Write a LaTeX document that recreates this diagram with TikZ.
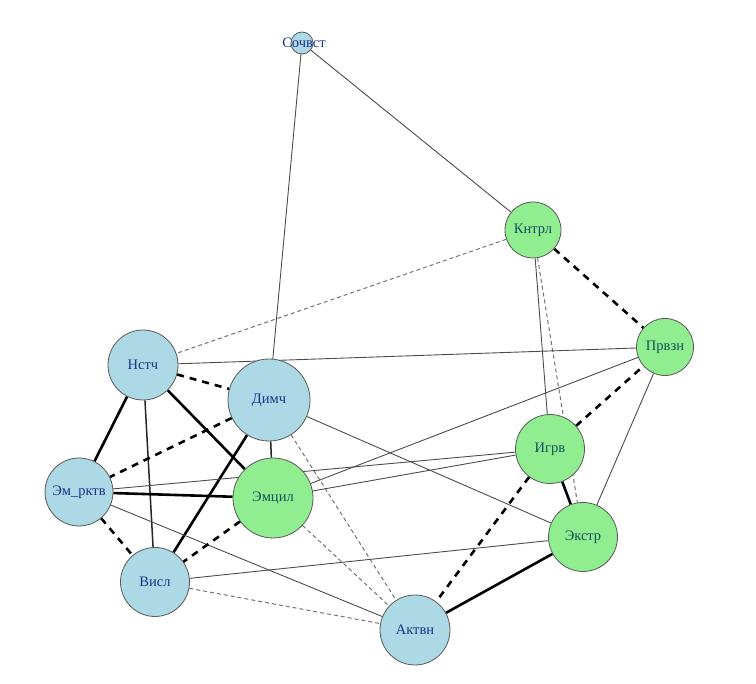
\documentclass[tikz,border=0pt]{standalone}
\usepackage{fontspec}
\setmainfont{Liberation Serif}
\usepackage{tikz}
\usetikzlibrary{backgrounds}
\definecolor{NodeBlue}{RGB}{173, 216, 230}
\definecolor{NodeGreen}{RGB}{144, 238, 144}
\definecolor{LabelBlue}{RGB}{28, 52, 140}
\definecolor{LabelTeal}{RGB}{22, 80, 90}

\begin{document}
\begin{tikzpicture}[
    x=1pt, y=-1pt,
    vert/.style={circle, draw=black!65, line width=0.8pt, inner sep=0pt, font=\fontsize{14.5}{16}\selectfont},
    bluev/.style={vert, fill=NodeBlue, text=LabelBlue},
    greenv/.style={vert, fill=NodeGreen, text=LabelTeal},
    weak/.style={draw=black!70, line width=0.9pt},
    mid/.style={draw=black!85, line width=1.5pt},
    strong/.style={draw=black, line width=2.6pt},
    weakdash/.style={draw=black!55, line width=1pt, dash pattern=on 4pt off 3pt},
    strongdash/.style={draw=black, line width=2.6pt, dash pattern=on 7pt off 6pt}
]
\useasboundingbox (0,0) rectangle (756,684);

% vertices
\node[bluev, minimum size=22pt] (sch) at (302,43) {};
\node[text=LabelBlue, font=\fontsize{14.5}{16}\selectfont] (schlbl) at (304,43) {Сочвст};
\node[greenv, minimum size=56pt] (knt) at (533,230) {Кнтрл};
\node[greenv, minimum size=57pt] (prv) at (665,347) {Првзн};
\node[bluev, minimum size=70pt] (nst) at (143,365) {Нстч};
\node[bluev, minimum size=82pt] (dim) at (269,400) {Димч};
\node[greenv, minimum size=69pt] (igr) at (550,449) {Игрв};
\node[bluev, minimum size=68pt] (emr) at (79,492) {Эм\_рктв};
\node[greenv, minimum size=80pt] (emc) at (273,498) {Эмцил};
\node[greenv, minimum size=69pt] (eks) at (583,537) {Экстр};
\node[bluev, minimum size=69pt] (vis) at (155,582) {Висл};
\node[bluev, minimum size=70pt] (akt) at (415,630) {Актвн};

% connectors
\begin{scope}[on background layer]
\draw[weak] (sch) -- (dim);
\draw[weak] (sch) -- (knt);
\draw[weakdash] (knt) -- (nst);
\draw[strongdash] (knt) -- (prv);
\draw[weak] (knt) -- (igr);
\draw[weakdash] (knt) -- (eks);
\draw[weak] (nst) -- (prv);
\draw[strongdash] (nst) -- (dim);
\draw[strong] (nst) -- (emr);
\draw[mid] (nst) -- (vis);
\draw[strong] (nst) -- (emc);
\draw[strongdash] (dim) -- (emr);
\draw[strong] (dim) -- (vis);
\draw[mid] (dim) -- (emc);
\draw[weak] (dim) -- (eks);
\draw[weakdash] (dim) -- (akt);
\draw[strong] (emr) -- (emc);
\draw[weak] (emr) -- (igr);
\draw[strongdash] (emr) -- (vis);
\draw[weak] (emr) -- (akt);
\draw[weak] (emc) -- (igr);
\draw[weak] (emc) -- (prv);
\draw[strongdash] (emc) -- (vis);
\draw[weakdash] (emc) -- (akt);
\draw[weak] (vis) -- (eks);
\draw[weakdash] (vis) -- (akt);
\draw[strongdash] (igr) -- (prv);
\draw[strong] (igr) -- (eks);
\draw[strongdash] (igr) -- (akt);
\draw[weak] (prv) -- (eks);
\draw[strong] (eks) -- (akt);
\end{scope}

\end{tikzpicture}
\end{document}
